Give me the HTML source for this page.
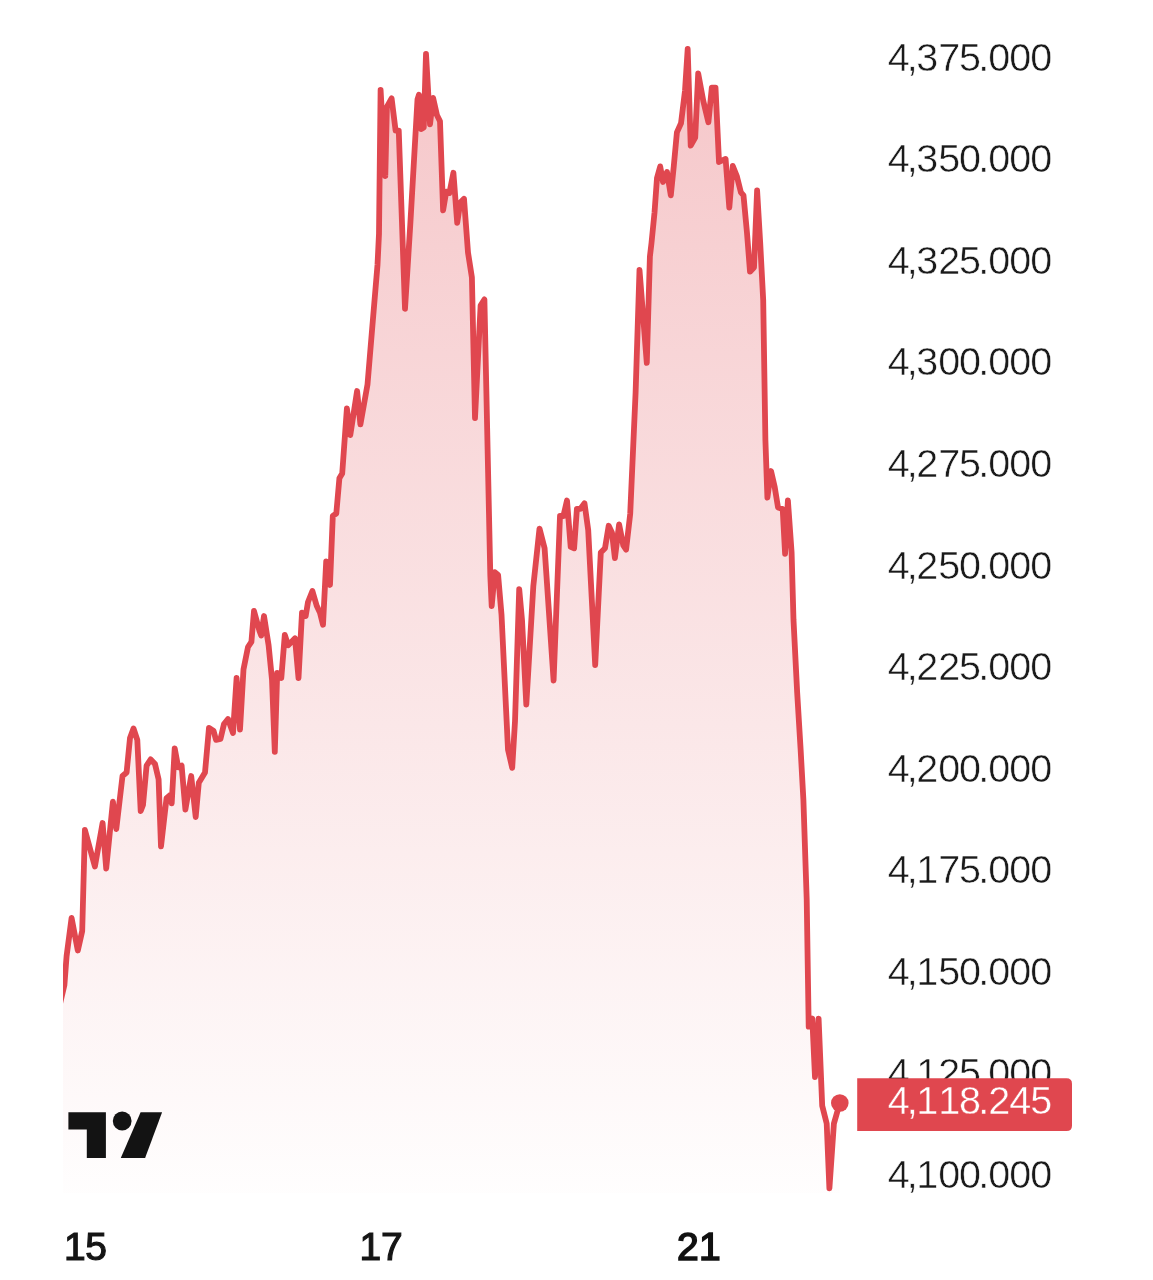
<!DOCTYPE html>
<html lang="en">
<head>
<meta charset="utf-8">
<title>Chart</title>
<style>
html,body{margin:0;padding:0;background:#fff;}
body{width:1153px;height:1280px;overflow:hidden;position:relative;font-family:"Liberation Sans",sans-serif;}
svg{position:absolute;left:0;top:0;display:block;}
.pl{font-family:"Liberation Sans",sans-serif;font-size:39.5px;fill:#1a1a1a;stroke:#fff;stroke-width:0.5px;paint-order:fill stroke;}
.cur{font-family:"Liberation Sans",sans-serif;font-size:39.5px;fill:#fff;stroke:#E0474F;stroke-width:0.4px;paint-order:fill stroke;}
.tl{font-family:"Liberation Sans",sans-serif;font-size:39px;fill:#151515;stroke:#151515;stroke-width:1.2px;}
.tb{font-family:"Liberation Sans",sans-serif;font-size:39px;fill:#111;stroke:#111;stroke-width:1.6px;}
</style>
</head>
<body>
<svg width="1153" height="1280" viewBox="0 0 1153 1280">
<defs>
<linearGradient id="g" x1="0" y1="0" x2="0" y2="1193" gradientUnits="userSpaceOnUse">
<stop offset="0" stop-color="#E0474F" stop-opacity="0.32"/>
<stop offset="1" stop-color="#E0474F" stop-opacity="0.008"/>
</linearGradient>
<clipPath id="c"><rect x="63" y="0" width="800" height="1193"/></clipPath>
<clipPath id="c2"><rect x="63" y="0" width="800" height="1280"/></clipPath>
</defs>
<g clip-path="url(#c)"><path d="M59.5,1193 L59.5,1006 L64.4,985 L66.6,956 L71.6,918 L77.8,950.5 L82.2,931 L84.9,830 L94.9,866.5 L102.6,823 L106.2,868.5 L112.9,801.7 L116.3,829 L122.5,776 L126.6,772.5 L130,738 L133.5,728.5 L137.3,740 L140.7,811 L143,805 L146.6,765.6 L150.7,759.4 L155,764 L158.6,779.4 L161,846.4 L166.5,798.3 L170.6,794.8 L171.7,803.4 L174.7,748.4 L178.2,767.3 L181.6,765.6 L185.4,809.6 L191.2,776 L195.7,817 L198.8,782.8 L205,772.5 L209,727.8 L213.6,731 L216,739.8 L220.5,738.8 L224,724 L228,719 L233,733 L236.6,678 L240,729.5 L243.5,669.4 L248,647 L251.4,641.9 L254,611 L259.5,631 L261.2,635.5 L264,616 L268.6,645.3 L272,679.7 L274.8,751.9 L277.2,672.8 L281.3,678 L284.8,635 L288.2,645.3 L295,638.4 L298.5,678 L302,612.7 L305.7,616 L308,602 L312.4,591 L316.7,605.8 L320,612.7 L323,624.8 L326.2,561.5 L330,585 L332.8,515.8 L336.3,513.5 L339.4,478.3 L342.2,473.6 L346.9,408.4 L350.3,435 L357.1,391 L360.4,424.4 L367.5,384.5 L372.8,321 L377.5,265 L379,233.75 L380.6,90 L385.3,176 L386.9,107 L391.6,98.4 L395.6,130.6 L398.75,130.6 L405,308.75 L410.3,224.4 L417.5,99.4 L419,94.7 L421.25,129 L423.75,127.5 L426,54 L430,124.4 L433.1,97.8 L436.9,115 L440,121.25 L443.1,210.3 L446.25,191.6 L449.4,193 L453.4,172.8 L457.2,222.8 L460.3,202.5 L464,198.75 L468,252.5 L471.9,277.5 L475,418 L480.6,305.6 L484.4,299.4 L487.4,440 L490.3,575 L491.7,606 L494.8,572.2 L498.1,575 L501.5,614.4 L508,749.5 L512.2,767.8 L515,721.3 L519.2,589.1 L522,620 L526.3,704.5 L533.3,586.3 L539.5,528.6 L544.6,548.3 L553.6,680.5 L560,516 L563.4,516 L567,500.5 L570.7,546.9 L574.1,548.3 L576.9,508.9 L580.3,508.9 L584.5,503.3 L588.2,530 L595.2,665 L600.8,552.5 L605,548.3 L608.7,525.8 L612,532.8 L614.9,558.2 L619.1,524.4 L623.3,545.5 L626.1,549.7 L630.2,514 L635.6,392.6 L639.5,269.9 L646.8,362.9 L649.9,256.6 L651.5,243 L654.5,212.7 L657,178 L660.2,166.4 L663,182 L667,172 L670.8,195.4 L673.8,166 L676.9,132.4 L681,123.3 L685,90.8 L687.7,49 L690.7,145.6 L695.2,137.5 L698.2,73.5 L703.3,101 L708.4,122.3 L711.8,87.7 L715.5,87.7 L719,162 L725.6,158.9 L729.3,207.6 L732.8,166 L736.8,176 L740.9,192.4 L743.5,195.4 L747,233 L750,271.6 L754,267.5 L757.1,190.3 L760.2,243 L763.2,300 L765.4,440 L767.4,497.6 L771,471 L774.7,487 L778,507.4 L782.7,508.9 L785.1,553.8 L787.9,500.4 L791.6,552.4 L793.5,620 L797.2,693 L800.6,749 L803.4,800 L806.7,899.3 L808.7,1026.7 L812.3,1018.6 L815,1077 L818.6,1018.6 L822.2,1105.7 L826.7,1123.6 L829.4,1188.3 L833.9,1123.6 L839.8,1103 L839.8,1193 Z" fill="url(#g)"/></g>
<text class="pl" x="887.8 906.7 916.3 938.3 959 978.2 988.2 1009.3 1030.2" y="70.6">4,375.000</text>
<text class="pl" x="887.8 906.7 916.3 938.3 959 978.2 988.2 1009.3 1030.2" y="172.2">4,350.000</text>
<text class="pl" x="887.8 906.7 916.3 938.3 959 978.2 988.2 1009.3 1030.2" y="273.8">4,325.000</text>
<text class="pl" x="887.8 906.7 916.3 938.3 959 978.2 988.2 1009.3 1030.2" y="375.3">4,300.000</text>
<text class="pl" x="887.8 906.7 916.3 938.3 959 978.2 988.2 1009.3 1030.2" y="476.9">4,275.000</text>
<text class="pl" x="887.8 906.7 916.3 938.3 959 978.2 988.2 1009.3 1030.2" y="578.5">4,250.000</text>
<text class="pl" x="887.8 906.7 916.3 938.3 959 978.2 988.2 1009.3 1030.2" y="680.1">4,225.000</text>
<text class="pl" x="887.8 906.7 916.3 938.3 959 978.2 988.2 1009.3 1030.2" y="781.7">4,200.000</text>
<text class="pl" x="887.8 906.7 916.3 938.3 959 978.2 988.2 1009.3 1030.2" y="883.3">4,175.000</text>
<text class="pl" x="887.8 906.7 916.3 938.3 959 978.2 988.2 1009.3 1030.2" y="984.8">4,150.000</text>
<text class="pl" x="887.8 906.7 916.3 938.3 959 978.2 988.2 1009.3 1030.2" y="1086.4">4,125.000</text>
<text class="pl" x="887.8 906.7 916.3 938.3 959 978.2 988.2 1009.3 1030.2" y="1188.0">4,100.000</text>
<g clip-path="url(#c2)">
<polyline points="59.5,1006 64.4,985 66.6,956 71.6,918 77.8,950.5 82.2,931 84.9,830 94.9,866.5 102.6,823 106.2,868.5 112.9,801.7 116.3,829 122.5,776 126.6,772.5 130,738 133.5,728.5 137.3,740 140.7,811 143,805 146.6,765.6 150.7,759.4 155,764 158.6,779.4 161,846.4 166.5,798.3 170.6,794.8 171.7,803.4 174.7,748.4 178.2,767.3 181.6,765.6 185.4,809.6 191.2,776 195.7,817 198.8,782.8 205,772.5 209,727.8 213.6,731 216,739.8 220.5,738.8 224,724 228,719 233,733 236.6,678 240,729.5 243.5,669.4 248,647 251.4,641.9 254,611 259.5,631 261.2,635.5 264,616 268.6,645.3 272,679.7 274.8,751.9 277.2,672.8 281.3,678 284.8,635 288.2,645.3 295,638.4 298.5,678 302,612.7 305.7,616 308,602 312.4,591 316.7,605.8 320,612.7 323,624.8 326.2,561.5 330,585 332.8,515.8 336.3,513.5 339.4,478.3 342.2,473.6 346.9,408.4 350.3,435 357.1,391 360.4,424.4 367.5,384.5 372.8,321 377.5,265 379,233.75 380.6,90 385.3,176 386.9,107 391.6,98.4 395.6,130.6 398.75,130.6 405,308.75 410.3,224.4 417.5,99.4 419,94.7 421.25,129 423.75,127.5 426,54 430,124.4 433.1,97.8 436.9,115 440,121.25 443.1,210.3 446.25,191.6 449.4,193 453.4,172.8 457.2,222.8 460.3,202.5 464,198.75 468,252.5 471.9,277.5 475,418 480.6,305.6 484.4,299.4 487.4,440 490.3,575 491.7,606 494.8,572.2 498.1,575 501.5,614.4 508,749.5 512.2,767.8 515,721.3 519.2,589.1 522,620 526.3,704.5 533.3,586.3 539.5,528.6 544.6,548.3 553.6,680.5 560,516 563.4,516 567,500.5 570.7,546.9 574.1,548.3 576.9,508.9 580.3,508.9 584.5,503.3 588.2,530 595.2,665 600.8,552.5 605,548.3 608.7,525.8 612,532.8 614.9,558.2 619.1,524.4 623.3,545.5 626.1,549.7 630.2,514 635.6,392.6 639.5,269.9 646.8,362.9 649.9,256.6 651.5,243 654.5,212.7 657,178 660.2,166.4 663,182 667,172 670.8,195.4 673.8,166 676.9,132.4 681,123.3 685,90.8 687.7,49 690.7,145.6 695.2,137.5 698.2,73.5 703.3,101 708.4,122.3 711.8,87.7 715.5,87.7 719,162 725.6,158.9 729.3,207.6 732.8,166 736.8,176 740.9,192.4 743.5,195.4 747,233 750,271.6 754,267.5 757.1,190.3 760.2,243 763.2,300 765.4,440 767.4,497.6 771,471 774.7,487 778,507.4 782.7,508.9 785.1,553.8 787.9,500.4 791.6,552.4 793.5,620 797.2,693 800.6,749 803.4,800 806.7,899.3 808.7,1026.7 812.3,1018.6 815,1077 818.6,1018.6 822.2,1105.7 826.7,1123.6 829.4,1188.3 833.9,1123.6 839.8,1103" fill="none" stroke="#E0474F" stroke-width="5.8" stroke-linejoin="round" stroke-linecap="round"/>
</g>
<circle cx="839.8" cy="1103" r="8.8" fill="#E0474F"/>
<path d="M857.2,1078.2 H1066.5 Q1072,1078.2 1072,1083.7 V1125.5 Q1072,1131 1066.5,1131 H857.2 Z" fill="#E0474F"/>
<text class="cur" x="887.8 906.7 916.3 938.3 959 978.2 988.2 1009.3 1030.2" y="1113.6">4,118.245</text>
<!-- logo -->
<g fill="#131313">
<path d="M68.4,1112.3 H105.9 V1158 H86.8 V1129.6 H68.4 Z"/>
<circle cx="122.2" cy="1121" r="9.4"/>
<path d="M140.6,1112.3 H162.1 L145.1,1158 H120.8 Z"/>
</g>
<text class="tl" x="64 85.3" y="1259.8">15</text>
<text class="tl" x="359.5 381" y="1259.8">17</text>
<text class="tb" x="677 699" y="1259.8">21</text>
</svg>
</body>
</html>
